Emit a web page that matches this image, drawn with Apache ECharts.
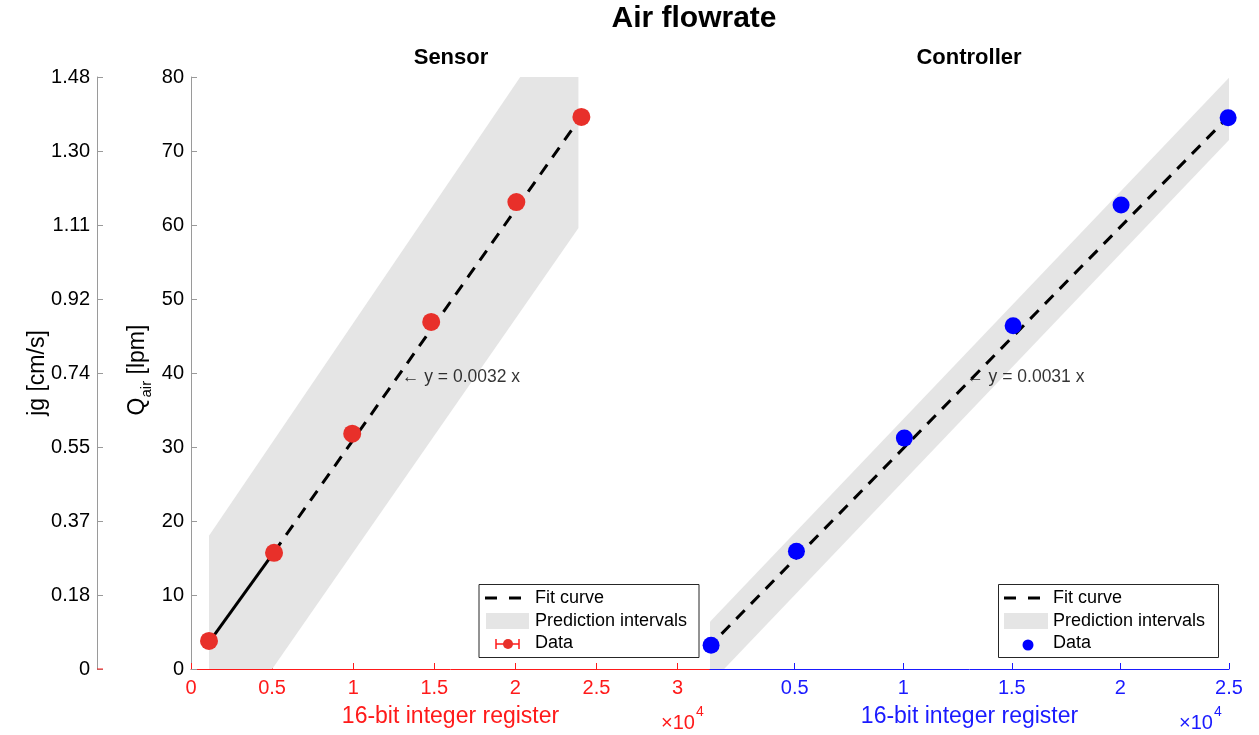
<!DOCTYPE html>
<html><head><meta charset="utf-8">
<script src="https://cdn.jsdelivr.net/npm/echarts@6/dist/echarts.min.js"></script>
<style>html,body{margin:0;padding:0;background:#fff}#c{width:1259px;height:735px}</style>
</head><body><div id="c"></div>
<script>
// ---- data ----
const sensorX = [1110, 5120, 9940, 14810, 20060, 24070];
const sensorY = [3.8, 15.7, 31.8, 46.9, 63.1, 74.6];
const controllerX = [1150, 5080, 10050, 15060, 20030, 24960];
const controllerY = [3.2, 15.9, 31.2, 46.4, 62.7, 74.5];
const sensorFitX = [1110, 5120, 24070];
const sensorFitY = [3.6, 15.8, 74.7];
const controllerFitX = [1150, 24960];
const controllerFitY = [3.3, 74.6];
const sensorBandX = [1110, 23890];
const sensorBandUpper = [18.0, 91.6];
const sensorBandLower = [-12.3, 59.6];
const controllerBandX = [1100, 25000];
const controllerBandUpper = [6.4, 79.9];
const controllerBandLower = [-2.0, 71.5];
const qTicks = [0, 10, 20, 30, 40, 50, 60, 70, 80];
const jgTickLabels = ['0', '0.18', '0.37', '0.55', '0.74', '0.92', '1.11', '1.30', '1.48'];
const sensorXTicks = [0, 5000, 10000, 15000, 20000, 25000, 30000];
const controllerXTicks = [5000, 10000, 15000, 20000, 25000];
const sensorFitLabel = '\u2190 y = 0.0032 x';
const controllerFitLabel = '\u2190 y = 0.0031 x';
const sensorLabelPos = [13000, 39.5];
const controllerLabelPos = [12900, 39.5];

const FONT = '"Liberation Sans", Arial, Helvetica, sans-serif';
const RED = '#ff1a1a', BLUE = '#1a1aff';
const PT_RED = '#e8302a', PT_BLUE = '#0000ff';
const BAND = '#e5e5e5';
const TICK_FS = 20, NAME_FS = 23, LEG_FS = 18;

function band(xi, xs, up, lo) {
  return {
    type: 'custom', xAxisIndex: xi, yAxisIndex: xi === 0 ? 0 : 2, clip: true, silent: true, z: 1,
    data: [[xs[0], up[0]]],
    renderItem: function (params, api) {
      const pts = [];
      for (let i = 0; i < xs.length; i++) pts.push(api.coord([xs[i], up[i]]));
      for (let i = xs.length - 1; i >= 0; i--) pts.push(api.coord([xs[i], lo[i]]));
      return { type: 'polygon', shape: { points: pts }, style: { fill: BAND } };
    }
  };
}
function zip(a, b) { return a.map((v, i) => [v, b[i]]); }

function xAxisDef(grid, min, max, color, ticks) {
  return {
    type: 'value', gridIndex: grid, min: min, max: max, splitLine: { show: false },
    axisLine: { lineStyle: { color: color, width: 1 } },
    axisTick: { inside: true, length: 6, lineStyle: { color: color }, customValues: ticks },
    axisLabel: { fontSize: TICK_FS, fontFamily: FONT, margin: 9, color: color, customValues: ticks,
      formatter: v => String(v / 10000) },
    name: '16-bit integer register', nameLocation: 'middle', nameGap: 36,
    nameTextStyle: { color: color, fontSize: NAME_FS, fontFamily: FONT }
  };
}
function yAxisDef(offset, fmt) {
  return {
    gridIndex: 0, type: 'value', min: 0, max: 80, interval: 10, position: 'left', offset: offset,
    splitLine: { show: false },
    axisLine: { show: true, lineStyle: { color: '#9a9a9a' } },
    axisTick: { show: true, inside: true, length: 6, lineStyle: { color: '#9a9a9a' } },
    axisLabel: { color: '#000', fontSize: TICK_FS, fontFamily: FONT, margin: 7, formatter: fmt }
  };
}
function txt(x, y, text, font, fill, extra) {
  return Object.assign({ type: 'text', x: x, y: y, z: 22,
    style: { text: text, textVerticalAlign: 'middle', font: font, fill: fill } }, extra || {});
}

const option = {
  backgroundColor: '#fff',
  animation: false,
  grid: [
    { left: 191, top: 77, width: 519, height: 592 },
    { left: 710, top: 77, width: 519, height: 592 }
  ],
  xAxis: [
    xAxisDef(0, 0, 32000, RED, sensorXTicks),
    xAxisDef(1, 1100, 25000, BLUE, controllerXTicks)
  ],
  yAxis: [
    yAxisDef(0, v => String(v)),
    yAxisDef(94, v => jgTickLabels[Math.round(v / 10)]),
    { gridIndex: 1, type: 'value', min: 0, max: 80, show: false }
  ],
  series: [
    band(0, sensorBandX, sensorBandUpper, sensorBandLower),
    band(1, controllerBandX, controllerBandUpper, controllerBandLower),
    { type: 'line', xAxisIndex: 0, yAxisIndex: 0, data: zip(sensorFitX.slice(0, 2), sensorFitY.slice(0, 2)),
      symbol: 'none', lineStyle: { color: '#000', width: 3 }, z: 3, silent: true },
    { type: 'line', xAxisIndex: 0, yAxisIndex: 0, data: zip(sensorFitX.slice(1), sensorFitY.slice(1)),
      symbol: 'none', lineStyle: { color: '#000', width: 3, type: [12, 9] }, z: 3, silent: true },
    { type: 'line', xAxisIndex: 1, yAxisIndex: 2, data: zip(controllerFitX, controllerFitY),
      symbol: 'none', lineStyle: { color: '#000', width: 3, type: [12, 9], dashOffset: 6 }, z: 3, silent: true },
    { type: 'scatter', xAxisIndex: 0, yAxisIndex: 0, data: zip(sensorX, sensorY), symbolSize: 18,
      itemStyle: { color: PT_RED, opacity: 1 }, z: 4 },
    { type: 'scatter', xAxisIndex: 1, yAxisIndex: 2, data: zip(controllerX, controllerY), symbolSize: 17,
      itemStyle: { color: PT_BLUE, opacity: 1 }, z: 4 },
    { type: 'scatter', xAxisIndex: 0, yAxisIndex: 0, data: [sensorLabelPos], symbolSize: 0, z: 5,
      label: { show: true, position: 'right', distance: 0, formatter: sensorFitLabel, color: '#000', fontSize: 17.5, fontFamily: FONT } },
    { type: 'scatter', xAxisIndex: 1, yAxisIndex: 2, data: [controllerLabelPos], symbolSize: 0, z: 5,
      label: { show: true, position: 'right', distance: 0, formatter: controllerFitLabel, color: '#000', fontSize: 17.5, fontFamily: FONT } }
  ],
  graphic: [
    txt(694, 19, 'Air flowrate', 'bold 30px ' + FONT, '#000', { style: { text: 'Air flowrate', textAlign: 'center', textVerticalAlign: 'middle', font: 'bold 30px ' + FONT, fill: '#000' } }),
    txt(451, 58, 'Sensor', '', '#000', { style: { text: 'Sensor', textAlign: 'center', textVerticalAlign: 'middle', font: 'bold 22px ' + FONT, fill: '#000' } }),
    txt(969, 58, 'Controller', '', '#000', { style: { text: 'Controller', textAlign: 'center', textVerticalAlign: 'middle', font: 'bold 22px ' + FONT, fill: '#000' } }),
    txt(38, 373, '', '', '#000', { rotation: Math.PI / 2, style: { text: 'jg [cm/s]', textAlign: 'center', textVerticalAlign: 'middle', font: NAME_FS + 'px ' + FONT, fill: '#000' } }),
    { type: 'text', x: 138, y: 370, rotation: Math.PI / 2, z: 10, style: {
        text: '{a|Q}{s|air}{a| [lpm]}', textAlign: 'center', textVerticalAlign: 'middle',
        rich: { a: { fontSize: NAME_FS, fontFamily: FONT, lineHeight: 32, verticalAlign: 'middle', fill: '#000' },
                s: { fontSize: 15, fontFamily: FONT, lineHeight: 32, verticalAlign: 'bottom', fill: '#000' } } } },
    txt(661, 723, '\u00d710', '20px ' + FONT, RED),
    txt(696, 712, '4', '14px ' + FONT, RED),
    txt(1179, 723, '\u00d710', '20px ' + FONT, BLUE),
    txt(1214, 712, '4', '14px ' + FONT, BLUE),
    { type: 'line', z: 10, shape: { x1: 97, y1: 669, x2: 103, y2: 669 }, style: { stroke: RED, lineWidth: 1 } },
    // left legend
    { type: 'rect', z: 20, shape: { x: 479, y: 584.5, width: 220, height: 73 }, style: { fill: '#fff', stroke: '#262626', lineWidth: 1 } },
    { type: 'line', z: 21, shape: { x1: 485, y1: 598, x2: 497, y2: 598 }, style: { stroke: '#000', lineWidth: 3 } },
    { type: 'line', z: 21, shape: { x1: 509, y1: 598, x2: 521, y2: 598 }, style: { stroke: '#000', lineWidth: 3 } },
    { type: 'rect', z: 21, shape: { x: 486, y: 613, width: 43, height: 16 }, style: { fill: BAND } },
    { type: 'line', z: 21, shape: { x1: 496, y1: 644, x2: 519, y2: 644 }, style: { stroke: RED, lineWidth: 1.5 } },
    { type: 'line', z: 21, shape: { x1: 496, y1: 639, x2: 496, y2: 649 }, style: { stroke: RED, lineWidth: 1.5 } },
    { type: 'line', z: 21, shape: { x1: 519, y1: 639, x2: 519, y2: 649 }, style: { stroke: RED, lineWidth: 1.5 } },
    { type: 'circle', z: 22, shape: { cx: 508, cy: 644, r: 5 }, style: { fill: PT_RED } },
    txt(535, 598, 'Fit curve', LEG_FS + 'px ' + FONT, '#000'),
    txt(535, 621, 'Prediction intervals', LEG_FS + 'px ' + FONT, '#000'),
    txt(535, 643, 'Data', LEG_FS + 'px ' + FONT, '#000'),
    // right legend
    { type: 'rect', z: 20, shape: { x: 998.5, y: 584.5, width: 220, height: 73 }, style: { fill: '#fff', stroke: '#262626', lineWidth: 1 } },
    { type: 'line', z: 21, shape: { x1: 1004, y1: 598, x2: 1016, y2: 598 }, style: { stroke: '#000', lineWidth: 3 } },
    { type: 'line', z: 21, shape: { x1: 1028, y1: 598, x2: 1040, y2: 598 }, style: { stroke: '#000', lineWidth: 3 } },
    { type: 'rect', z: 21, shape: { x: 1004, y: 613, width: 44, height: 16 }, style: { fill: BAND } },
    { type: 'circle', z: 22, shape: { cx: 1028, cy: 645, r: 5.5 }, style: { fill: PT_BLUE } },
    txt(1053, 598, 'Fit curve', LEG_FS + 'px ' + FONT, '#000'),
    txt(1053, 621, 'Prediction intervals', LEG_FS + 'px ' + FONT, '#000'),
    txt(1053, 643, 'Data', LEG_FS + 'px ' + FONT, '#000')
  ]
};
const chart = echarts.init(document.getElementById('c'), null, { renderer: 'canvas' });
chart.setOption(option);
</script></body></html>
